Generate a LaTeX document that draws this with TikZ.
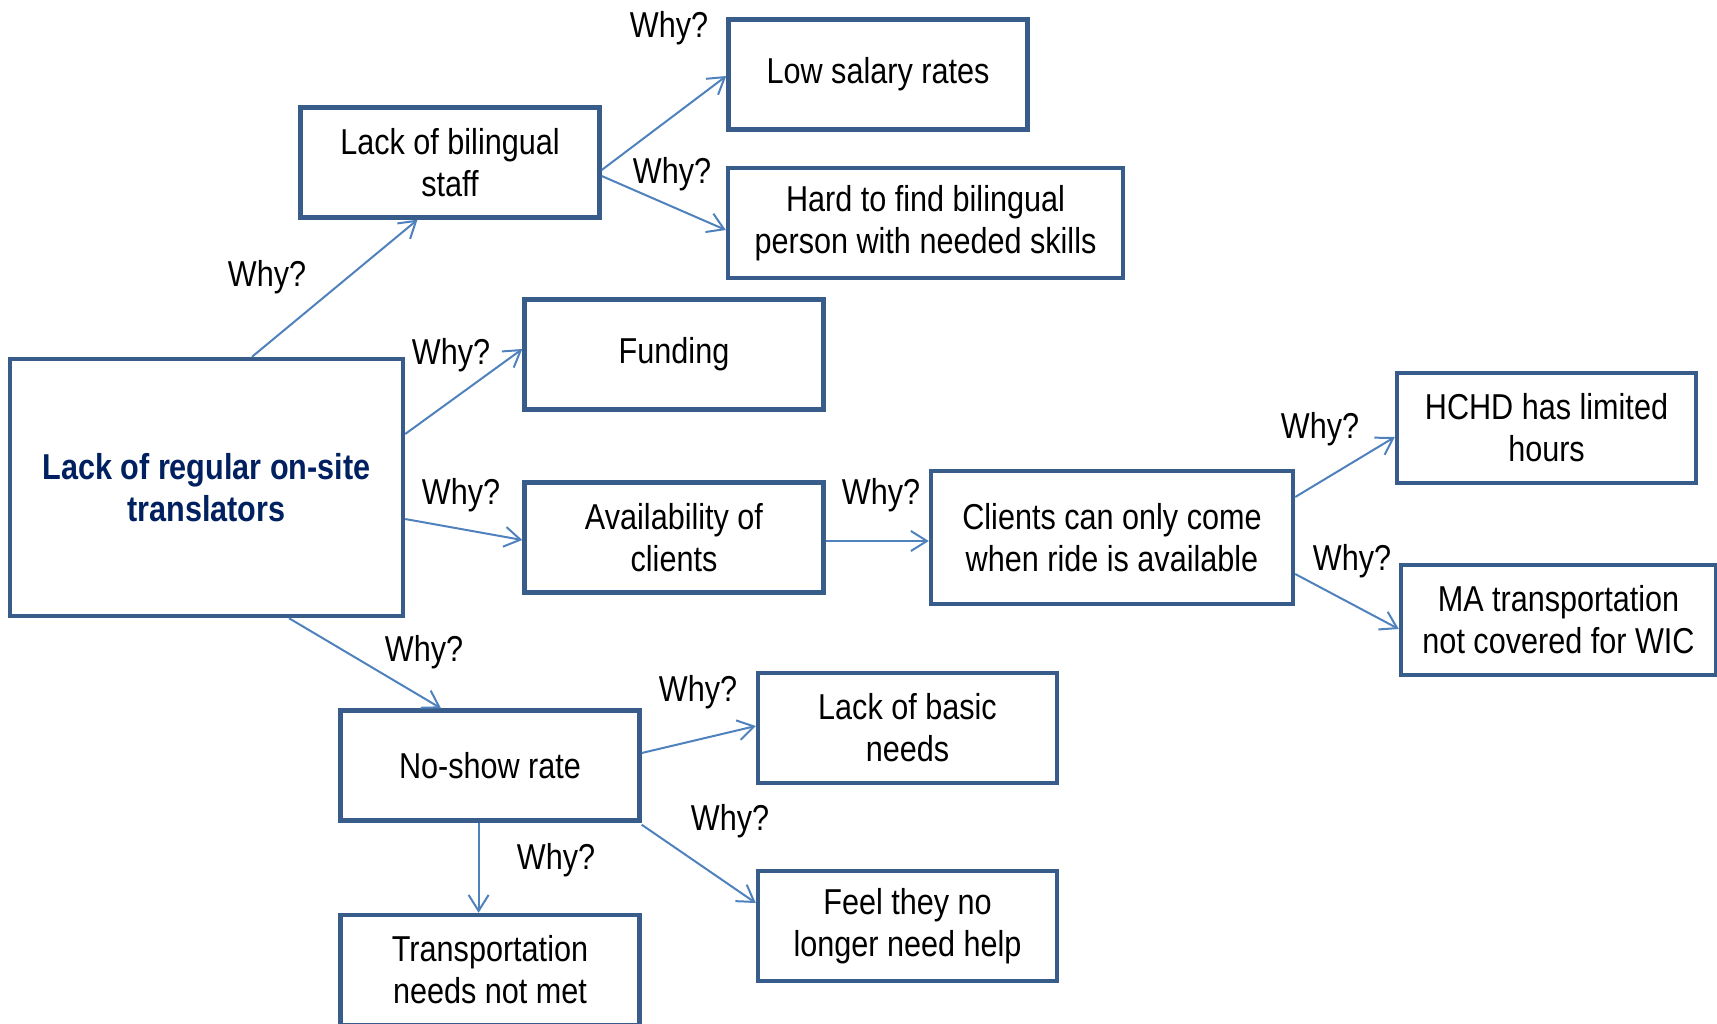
\documentclass[tikz,border=0pt]{standalone}
\usepackage{fontspec}
\setmainfont{Liberation Sans}[FakeStretch=0.85]
\usetikzlibrary{arrows.meta,calc}
\definecolor{boxblue}{RGB}{56,93,138}
\definecolor{linkblue}{RGB}{79,129,189}
\definecolor{navy}{RGB}{0,32,96}

\begin{document}
\begin{tikzpicture}[x=0.5pt, y=-0.5pt,
		cause/.style = {draw=boxblue, line width=2.2pt, align=center, minimum width=149.5pt, minimum height=55pt, inner sep=2pt, font=\fontsize{18}{21}\selectfont},
		why/.style = {inner sep=0pt, font=\fontsize{18}{21}\selectfont},
		link/.style = {draw=linkblue, line width=1pt, -{Straight Barb[length=8pt,width=10pt,line width=1pt]}}]
		\useasboundingbox (0,0) rectangle (1717,1023);

		\node[cause, minimum width=196.5pt, minimum height=128.5pt, text=navy, font=\fontsize{18}{21}\selectfont\bfseries] (main) at (206.5,487.5) {Lack of regular on-site\\translators};
		\node[cause] (staff) at (450,162.5) {Lack of bilingual\\staff};
		\node[cause] (salary) at (878,74.5) {Low salary rates};
		\node[cause, minimum width=197.5pt] (skills) at (925.5,223) {Hard to find bilingual\\person with needed skills};
		\node[cause] (funding) at (674,354.5) {Funding};
		\node[cause] (avail) at (674,537.5) {Availability of\\clients};
		\node[cause, minimum width=181pt, minimum height=66.5pt] (ride) at (1112,537.5) {Clients can only come\\when ride is available};
		\node[cause] (hours) at (1546.5,428) {HCHD has limited\\hours};
		\node[cause, minimum width=157.5pt] (wic) at (1558.5,620) {MA transportation\\not covered for WIC};
		\node[cause] (noshow) at (490,765.5) {No-show rate};
		\node[cause] (needs) at (907.5,728) {Lack of basic\\needs};
		\node[cause] (help) at (907.5,926) {Feel they no\\longer need help};
		\node[cause] (transport) at (490,970) {Transportation\\needs not met};

		\draw[link] ($(main.north)+(45.5,0)$) -- ($(staff.south)+(-32.5,0)$);
		\draw[link] ($(staff.east)+(0,7.5)$) -- ($(salary.west)+(0,1.5)$);
		\draw[link] ($(staff.east)+(0,13.5)$) -- ($(skills.west)+(0,7)$);
		\draw[link] ($(main.east)+(0,-53.5)$) -- ($(funding.west)+(0,-5.5)$);
		\draw[link] ($(main.east)+(0,31.5)$) -- ($(avail.west)+(0,2.5)$);
		\draw[link] ($(avail.east)+(0,3.5)$) -- ($(ride.west)+(0,3.5)$);
		\draw[link] ($(ride.east)+(0,-40.5)$) -- ($(hours.west)+(0,9)$);
		\draw[link] ($(ride.east)+(0,36.5)$) -- ($(wic.west)+(0,9)$);
		\draw[link] ($(main.south)+(82.5,0)$) -- ($(noshow.north)+(-49,0)$);
		\draw[link] ($(noshow.east)+(0,-12.5)$) -- ($(needs.west)+(0,-2)$);
		\draw[link] ($(noshow.south east)+(0,2)$) -- ($(help.west)+(0,-23)$);
		\draw[link] ($(noshow.south)+(-11.4,0)$) -- ($(transport.north)+(-11.4,0)$);

		\node[why] (w1) at (267,277) {Why?};
		\node[why] (w2) at (669,28) {Why?};
		\node[why] (w3) at (672,174) {Why?};
		\node[why] (w4) at (451,355) {Why?};
		\node[why] (w5) at (461,495) {Why?};
		\node[why] (w6) at (881,495) {Why?};
		\node[why] (w7) at (1320,429) {Why?};
		\node[why] (w8) at (1352,561) {Why?};
		\node[why] (w9) at (424,652) {Why?};
		\node[why] (w10) at (698,692) {Why?};
		\node[why] (w11) at (730,821) {Why?};
		\node[why] (w12) at (556,860) {Why?};
	\end{tikzpicture}
\end{document}
